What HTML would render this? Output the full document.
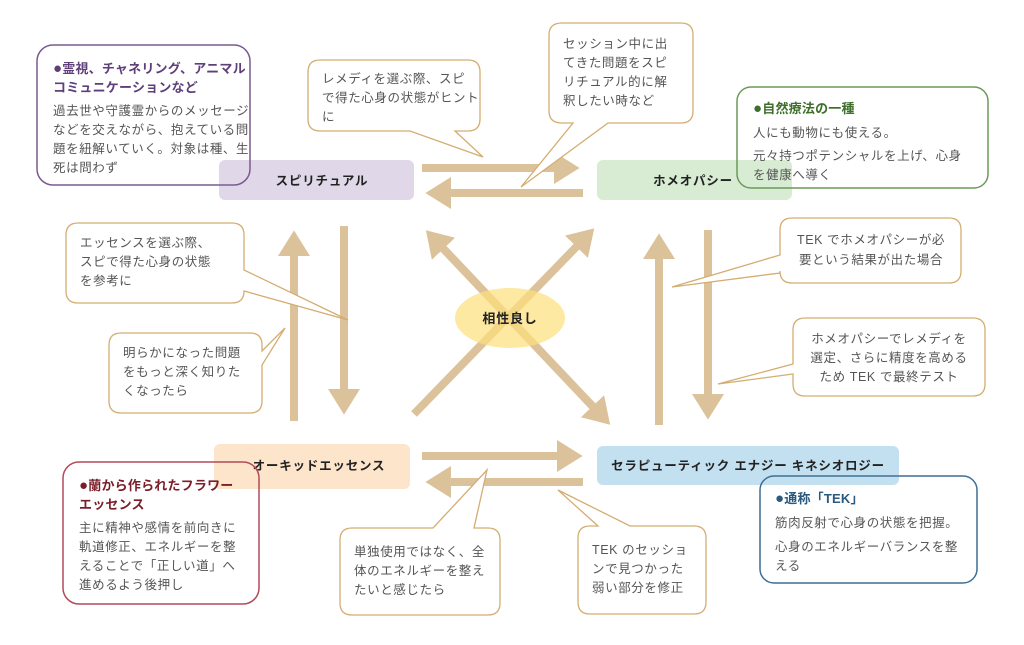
<!DOCTYPE html>
<html><head><meta charset="utf-8"><style>
html,body{margin:0;padding:0;background:#fff;width:1024px;height:645px;overflow:hidden}
svg{display:block}
text{font-family:"Liberation Sans","Noto Sans CJK JP",sans-serif}
.b{font-size:12.5px;fill:#555;letter-spacing:0.6px}
.t{font-size:13px;font-weight:bold;letter-spacing:0.2px}
.n{font-size:12.5px;font-weight:bold;fill:#222;letter-spacing:0.8px}
.c{fill:#fff;stroke:#d4ad72;stroke-width:1.3}
.d{font-size:15px}
</style></head><body>
<svg width="1024" height="645" viewBox="0 0 1024 645" xmlns="http://www.w3.org/2000/svg">
<defs>
<marker id="ah" markerWidth="4" markerHeight="4" refX="1" refY="2" orient="auto" markerUnits="strokeWidth">
<path d="M0,0 L3.2,2 L0,4 Z" fill="#dcc29a"/></marker>
</defs>
<rect x="219" y="160" width="195" height="40" rx="6" fill="#e0d8e8"/>
<rect x="597" y="160" width="195" height="40" rx="6" fill="#d8ecd3"/>
<rect x="214" y="444" width="196" height="45" rx="6" fill="#fde5cc"/>
<rect x="597" y="446" width="302" height="39" rx="6" fill="#c3e0f0"/>
<text class="n" x="322" y="185" text-anchor="middle">スピリチュアル</text>
<text class="n" x="693" y="185" text-anchor="middle">ホメオパシー</text>
<text class="n" x="319" y="470" text-anchor="middle">オーキッドエッセンス</text>
<text class="n" x="748" y="470" text-anchor="middle">セラピューティック エナジー キネシオロジー</text>
<g stroke="#dcc29a" stroke-width="8" fill="none">
<line x1="422" y1="168" x2="562" y2="168" marker-end="url(#ah)"/>
<line x1="583" y1="193" x2="443" y2="193" marker-end="url(#ah)"/>
<line x1="422" y1="456" x2="565" y2="456" marker-end="url(#ah)"/>
<line x1="583" y1="482" x2="443" y2="482" marker-end="url(#ah)"/>
<line x1="294" y1="421" x2="294" y2="248" marker-end="url(#ah)"/>
<line x1="344" y1="226" x2="344" y2="397" marker-end="url(#ah)"/>
<line x1="659" y1="425" x2="659" y2="251" marker-end="url(#ah)"/>
<line x1="708" y1="230" x2="708" y2="402" marker-end="url(#ah)"/>
<line x1="414" y1="414" x2="582" y2="241" marker-end="url(#ah)"/>
<line x1="438" y1="243" x2="598" y2="412" marker-end="url(#ah)"/>
<line x1="598" y1="412" x2="438" y2="243" marker-end="url(#ah)"/>
</g>
<ellipse cx="510" cy="318" rx="55" ry="30" fill="#fde07a" opacity="0.7"/>
<text class="n" x="510" y="323" text-anchor="middle" style="font-size:13px">相性良し</text>
<path class="c" d="M320,60 H468 Q480,60 480,72 V119 Q480,131 468,131 H455 L483,157 L410,131 H320 Q308,131 308,119 V72 Q308,60 320,60 Z"/>
<text class="b" x="322" y="83">レメディを選ぶ際、スピ</text>
<text class="b" x="322" y="102">で得た心身の状態がヒント</text>
<text class="b" x="322" y="121">に</text>
<path class="c" d="M562,23 H681 Q693,23 693,35 V111 Q693,123 681,123 H608 L521,187 L573,123 H562 Q549,123 549,111 V35 Q549,23 562,23 Z"/>
<text class="b" x="563" y="48">セッション中に出</text>
<text class="b" x="563" y="67">てきた問題をスピ</text>
<text class="b" x="563" y="86">リチュアル的に解</text>
<text class="b" x="563" y="105">釈したい時など</text>
<path class="c" d="M78,223 H232 Q244,223 244,235 V270 L348,320 L244,291 Q244,303 232,303 H78 Q66,303 66,291 V235 Q66,223 78,223 Z"/>
<text class="b" x="80" y="247">エッセンスを選ぶ際、</text>
<text class="b" x="80" y="266">スピで得た心身の状態</text>
<text class="b" x="80" y="285">を参考に</text>
<path class="c" d="M121,333 H250 Q262,333 262,345 V351 L285,328 L262,365 V401 Q262,413 250,413 H121 Q109,413 109,401 V345 Q109,333 121,333 Z"/>
<text class="b" x="123" y="357">明らかになった問題</text>
<text class="b" x="123" y="376">をもっと深く知りた</text>
<text class="b" x="123" y="395">くなったら</text>
<path class="c" d="M792,218 H949 Q961,218 961,230 V271 Q961,283 949,283 H792 Q780,283 780,271 V273 L672,287 L780,255 V230 Q780,218 792,218 Z"/>
<text class="b" x="871" y="244" text-anchor="middle">TEK でホメオパシーが必</text>
<text class="b" x="871" y="264" text-anchor="middle">要という結果が出た場合</text>
<path class="c" d="M805,318 H973 Q985,318 985,330 V384 Q985,396 973,396 H805 Q793,396 793,384 V374 L718,384 L793,364 V330 Q793,318 805,318 Z"/>
<text class="b" x="889" y="343" text-anchor="middle">ホメオパシーでレメディを</text>
<text class="b" x="889" y="362" text-anchor="middle">選定、さらに精度を高める</text>
<text class="b" x="889" y="381" text-anchor="middle">ため TEK で最終テスト</text>
<path class="c" d="M352,528 H433 L487,470 L474,528 H488 Q500,528 500,540 V603 Q500,615 488,615 H352 Q340,615 340,603 V540 Q340,528 352,528 Z"/>
<text class="b" x="354" y="556">単独使用ではなく、全</text>
<text class="b" x="354" y="575">体のエネルギーを整え</text>
<text class="b" x="354" y="594">たいと感じたら</text>
<path class="c" d="M590,526 H598 L558,490 L630,526 H694 Q706,526 706,538 V602 Q706,614 694,614 H590 Q578,614 578,602 V538 Q578,526 590,526 Z"/>
<text class="b" x="592" y="554">TEK のセッショ</text>
<text class="b" x="592" y="573">ンで見つかった</text>
<text class="b" x="592" y="592">弱い部分を修正</text>
<rect x="37" y="45" width="213" height="140" rx="16" fill="none" stroke="#7a5a8e" stroke-width="1.5"/>
<text class="t" x="53" y="73" fill="#5e3f7a"><tspan class="d">●</tspan>霊視、チャネリング、アニマル</text>
<text class="t" x="53" y="92" fill="#5e3f7a">コミュニケーションなど</text>
<text class="b" x="53" y="115">過去世や守護霊からのメッセージ</text>
<text class="b" x="53" y="134">などを交えながら、抱えている問</text>
<text class="b" x="53" y="153">題を紐解いていく。対象は種、生</text>
<text class="b" x="53" y="172">死は問わず</text>
<rect x="737" y="87" width="251" height="101" rx="14" fill="none" stroke="#6a9a5a" stroke-width="1.5"/>
<text class="t" x="753" y="113" fill="#3f6f2a"><tspan class="d">●</tspan>自然療法の一種</text>
<text class="b" x="753" y="137">人にも動物にも使える。</text>
<text class="b" x="753" y="160">元々持つポテンシャルを上げ、心身</text>
<text class="b" x="753" y="179">を健康へ導く</text>
<rect x="63" y="462" width="196" height="142" rx="16" fill="none" stroke="#b24a5a" stroke-width="1.5"/>
<text class="t" x="79" y="490" fill="#7a1e2a"><tspan class="d">●</tspan>蘭から作られたフラワー</text>
<text class="t" x="79" y="509" fill="#7a1e2a">エッセンス</text>
<text class="b" x="79" y="532">主に精神や感情を前向きに</text>
<text class="b" x="79" y="551">軌道修正、エネルギーを整</text>
<text class="b" x="79" y="570">えることで「正しい道」へ</text>
<text class="b" x="79" y="589">進めるよう後押し</text>
<rect x="760" y="476" width="217" height="107" rx="14" fill="none" stroke="#3f6f94" stroke-width="1.5"/>
<text class="t" x="775" y="503" fill="#2a5a80"><tspan class="d">●</tspan>通称「TEK」</text>
<text class="b" x="775" y="527">筋肉反射で心身の状態を把握。</text>
<text class="b" x="775" y="551">心身のエネルギーバランスを整</text>
<text class="b" x="775" y="570">える</text>
</svg>
</body></html>
